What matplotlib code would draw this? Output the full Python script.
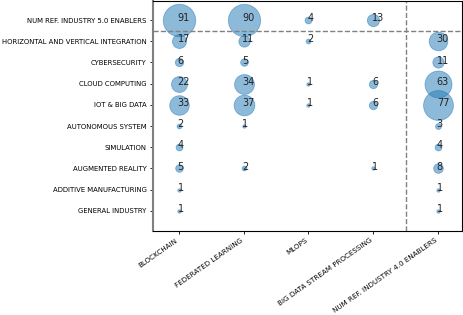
import numpy as np
import matplotlib.pyplot as plt

rows = ["NUM REF. INDUSTRY 5.0 ENABLERS", "HORIZONTAL AND VERTICAL INTEGRATION",
        "CYBERSECURITY", "CLOUD COMPUTING", "IOT & BIG DATA", "AUTONOMOUS SYSTEM",
        "SIMULATION", "AUGMENTED REALITY", "ADDITIVE MANUFACTURING", "GENERAL INDUSTRY"]
cols = ["BLOCKCHAIN", "FEDERATED LEARNING", "MLOPS", "BIG DATA STREAM PROCESSING",
        "NUM REF. INDUSTRY 4.0 ENABLERS"]

# one list per column, 0 = no bubble
blockchain = [91, 17, 6, 22, 33, 2, 4, 5, 1, 1]
federated = [90, 11, 5, 34, 37, 1, 0, 2, 0, 0]
mlops = [4, 2, 0, 1, 1, 0, 0, 0, 0, 0]
stream = [13, 0, 0, 6, 6, 0, 0, 1, 0, 0]
ind40 = [0, 30, 11, 63, 77, 3, 4, 8, 1, 1]

counts = np.array([blockchain, federated, mlops, stream, ind40])

fig = plt.figure(figsize=(4.64, 3.15), dpi=100)
ax = fig.add_axes([153/464, 1 - 231/315, (462 - 153)/464, (231 - 1)/315])

for i in range(len(cols)):
    for j in range(len(rows)):
        v = counts[i, j]
        if v == 0:
            continue
        ax.scatter(i, j, s=v*6, color='#1f77b4', alpha=0.5, linewidths=0.6)
        ax.text(i - 0.02, j + 0.05, str(v), fontsize=7, color='#222222')

ax.axhline(0.5, color='gray', linestyle='--', linewidth=1)
ax.axvline(3.5, color='gray', linestyle='--', linewidth=1)

ax.set_xlim(-0.4, 4.37)
ax.set_ylim(9.95, -0.9)
ax.set_xticks(range(len(cols)))
ax.set_xticklabels(cols, rotation=35, ha='right', fontsize=5.1)
ax.set_yticks(range(len(rows)))
ax.set_yticklabels(rows, fontsize=4.95)
ax.tick_params(length=2.5, width=0.6, pad=2)
for s in ax.spines.values():
    s.set_linewidth(0.8)
ax.spines['left'].set_color('gray')
ax.spines['left'].set_linewidth(1.5)

fig.savefig("out.png", dpi=100)
